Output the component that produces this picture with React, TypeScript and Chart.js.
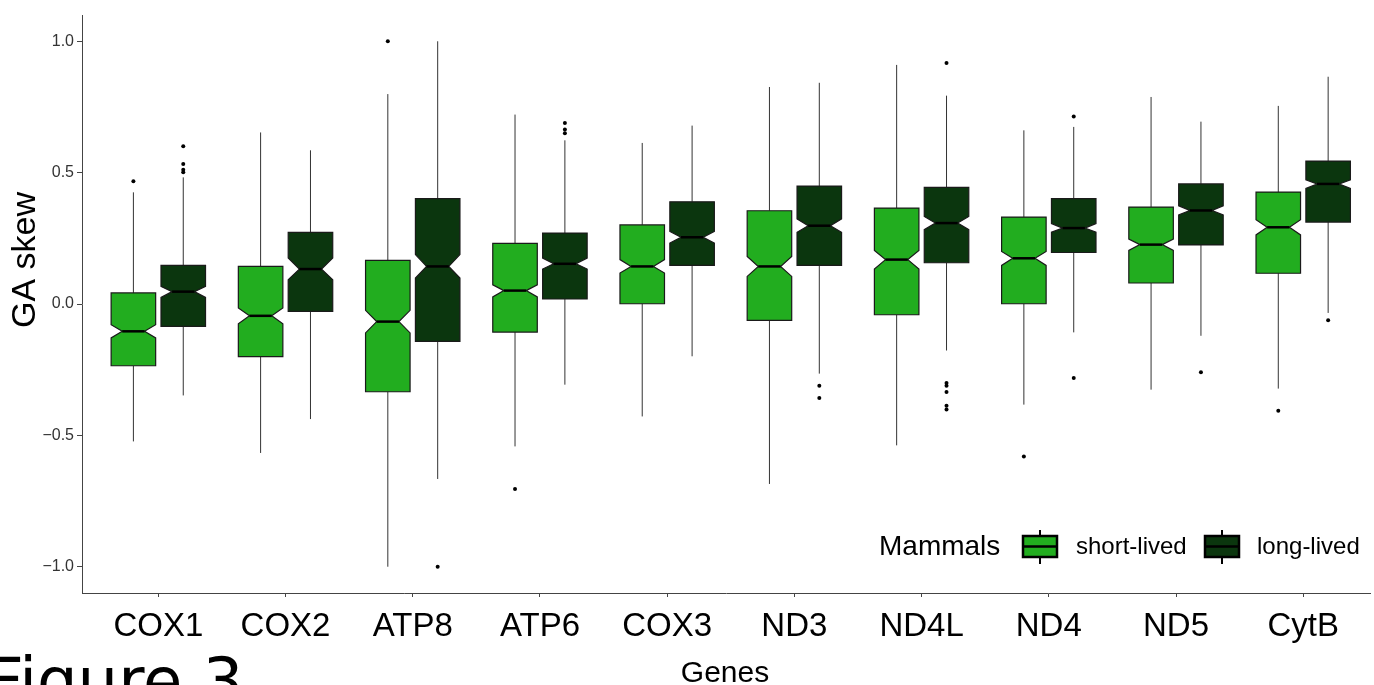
import React, { useEffect, useRef } from "react";
import { Chart, registerables } from "chart.js";

Chart.register(...registerables);

// ---------- data ----------
const genes = ["COX1", "COX2", "ATP8", "ATP6", "COX3", "ND3", "ND4L", "ND4", "ND5", "CytB"];
const groupLabels = ["short-lived", "long-lived"];
const yTickValues = [-1, -0.5, 0, 0.5, 1];

// short-lived mammals
const shortWhiskerLow = [-0.523, -0.567, -1.0, -0.542, -0.428, -0.685, -0.538, -0.383, -0.326, -0.322];
const shortQ1 = [-0.235, -0.2, -0.334, -0.107, 0.001, -0.062, -0.041, 0.001, 0.08, 0.117];
const shortNotchLow = [-0.129, -0.075, -0.11, 0.027, 0.118, 0.105, 0.133, 0.147, 0.204, 0.263];
const shortMedian = [-0.104, -0.045, -0.067, 0.051, 0.143, 0.143, 0.169, 0.174, 0.226, 0.292];
const shortNotchHigh = [-0.079, -0.015, -0.024, 0.073, 0.169, 0.181, 0.204, 0.2, 0.247, 0.321];
const shortQ3 = [0.042, 0.143, 0.166, 0.231, 0.301, 0.355, 0.365, 0.331, 0.369, 0.426];
const shortWhiskerHigh = [0.425, 0.653, 0.799, 0.721, 0.613, 0.826, 0.91, 0.661, 0.788, 0.754];
const shortOutliers = [[0.467], [], [1.0], [-0.704], [], [], [], [-0.58], [], [-0.406]];

// long-lived mammals
const longWhiskerLow = [-0.348, -0.438, -0.666, -0.307, -0.199, -0.265, -0.177, -0.108, -0.121, -0.034];
const longQ1 = [-0.085, -0.028, -0.142, 0.019, 0.147, 0.147, 0.157, 0.196, 0.225, 0.312];
const longNotchLow = [0.025, 0.092, 0.099, 0.133, 0.232, 0.273, 0.283, 0.273, 0.339, 0.44];
const longMedian = [0.047, 0.133, 0.143, 0.153, 0.254, 0.298, 0.308, 0.289, 0.356, 0.457];
const longNotchHigh = [0.067, 0.175, 0.188, 0.175, 0.276, 0.324, 0.333, 0.306, 0.374, 0.473];
const longQ3 = [0.147, 0.273, 0.401, 0.27, 0.389, 0.449, 0.444, 0.401, 0.457, 0.544];
const longWhiskerHigh = [0.482, 0.585, 1.0, 0.623, 0.679, 0.842, 0.793, 0.674, 0.694, 0.865];
const longOutliers = [
  [0.6, 0.533, 0.511, 0.501],
  [],
  [-1.0],
  [0.689, 0.664, 0.65],
  [],
  [-0.311, -0.358],
  [0.917, -0.301, -0.311, -0.335, -0.387, -0.402],
  [0.714, -0.282],
  [-0.26],
  [-0.062],
];

// ---------- styles ----------
const SHORT_COLOR = "#22AD1F";
const LONG_COLOR = "#0B360E";
const DODGE = 0.196;
const HALF_WIDTH = 0.175;
const SANS = "'Liberation Sans', Arial, sans-serif";

const groups = [
  {
    label: groupLabels[0], color: SHORT_COLOR, offset: -DODGE,
    wl: shortWhiskerLow, q1: shortQ1, nl: shortNotchLow, med: shortMedian,
    nh: shortNotchHigh, q3: shortQ3, wh: shortWhiskerHigh, out: shortOutliers,
  },
  {
    label: groupLabels[1], color: LONG_COLOR, offset: DODGE,
    wl: longWhiskerLow, q1: longQ1, nl: longNotchLow, med: longMedian,
    nh: longNotchHigh, q3: longQ3, wh: longWhiskerHigh, out: longOutliers,
  },
];

const boxPlugin = {
  id: "notchedBoxes",
  beforeDatasetsDraw(chart: any) {
    const { ctx } = chart;
    const xs = chart.scales.x;
    const ys = chart.scales.y;
    ctx.save();
    groups.forEach((g) => {
      genes.forEach((_, i) => {
        const pos = i + 1 + g.offset;
        const cx = xs.getPixelForValue(pos);
        const hw = xs.getPixelForValue(pos + HALF_WIDTH) - cx;
        const Y = (v: number) => ys.getPixelForValue(v);
        // whiskers
        ctx.beginPath();
        ctx.strokeStyle = "#333";
        ctx.lineWidth = 1;
        ctx.moveTo(cx, Y(g.wh[i]));
        ctx.lineTo(cx, Y(g.q3[i]));
        ctx.moveTo(cx, Y(g.q1[i]));
        ctx.lineTo(cx, Y(g.wl[i]));
        ctx.stroke();
        // notched box
        const ind = hw * 0.5;
        ctx.beginPath();
        ctx.moveTo(cx - hw, Y(g.q3[i]));
        ctx.lineTo(cx + hw, Y(g.q3[i]));
        ctx.lineTo(cx + hw, Y(g.nh[i]));
        ctx.lineTo(cx + hw - ind, Y(g.med[i]));
        ctx.lineTo(cx + hw, Y(g.nl[i]));
        ctx.lineTo(cx + hw, Y(g.q1[i]));
        ctx.lineTo(cx - hw, Y(g.q1[i]));
        ctx.lineTo(cx - hw, Y(g.nl[i]));
        ctx.lineTo(cx - hw + ind, Y(g.med[i]));
        ctx.lineTo(cx - hw, Y(g.nh[i]));
        ctx.closePath();
        ctx.fillStyle = g.color;
        ctx.fill();
        ctx.strokeStyle = "#1a1a1a";
        ctx.lineWidth = 1.2;
        ctx.stroke();
        // median
        ctx.beginPath();
        ctx.strokeStyle = "#000";
        ctx.lineWidth = 2.5;
        ctx.moveTo(cx - hw + ind, Y(g.med[i]));
        ctx.lineTo(cx + hw - ind, Y(g.med[i]));
        ctx.stroke();
      });
    });
    ctx.restore();
  },
  afterDraw(chart: any) {
    const { ctx } = chart;
    ctx.save();
    // y axis title
    ctx.save();
    ctx.translate(26, 260);
    ctx.rotate(-Math.PI / 2);
    ctx.font = `34px ${SANS}`;
    ctx.fillStyle = "#000";
    ctx.textAlign = "center";
    ctx.textBaseline = "middle";
    ctx.fillText("GA skew", 0, 0);
    ctx.restore();
    // x axis title
    ctx.font = `30px ${SANS}`;
    ctx.fillStyle = "#000";
    ctx.textAlign = "center";
    ctx.textBaseline = "alphabetic";
    ctx.fillText("Genes", 725, 682);
    // legend
    const ly = 547;
    ctx.fillStyle = "#000";
    ctx.textBaseline = "middle";
    ctx.textAlign = "left";
    ctx.font = `28px ${SANS}`;
    ctx.fillText("Mammals", 879, ly);
    const keys = [
      { x: 1023, color: SHORT_COLOR, label: groupLabels[0], tx: 1076 },
      { x: 1205, color: LONG_COLOR, label: groupLabels[1], tx: 1257 },
    ];
    keys.forEach((k) => {
      const w = 34;
      const cx = k.x + w / 2;
      ctx.strokeStyle = "#000";
      ctx.lineWidth = 2;
      ctx.beginPath();
      ctx.moveTo(cx, 530);
      ctx.lineTo(cx, 564);
      ctx.stroke();
      ctx.fillStyle = k.color;
      ctx.fillRect(k.x, 536, w, 21);
      ctx.lineWidth = 2.5;
      ctx.strokeRect(k.x, 536, w, 21);
      ctx.beginPath();
      ctx.moveTo(k.x, 546.5);
      ctx.lineTo(k.x + w, 546.5);
      ctx.stroke();
      ctx.fillStyle = "#000";
      ctx.font = `24px ${SANS}`;
      ctx.fillText(k.label, k.tx, ly);
    });
    // figure caption
    ctx.font = `64px 'DejaVu Sans', sans-serif`;
    ctx.textBaseline = "alphabetic";
    ctx.fillStyle = "#000";
    ctx.fillText("Figure 3", -13, 703);
    ctx.restore();
  },
};

const outlierData = (g: typeof groups[number]) =>
  g.out.flatMap((vals, i) => vals.map((v) => ({ x: i + 1 + g.offset, y: v })));

export default function App() {
  const ref = useRef<HTMLCanvasElement | null>(null);
  useEffect(() => {
    if (!ref.current) return;
    const chart = new Chart(ref.current, {
      type: "scatter",
      data: {
        datasets: groups.map((g) => ({
          label: g.label,
          data: outlierData(g),
          pointRadius: 2,
          pointBackgroundColor: "#000",
          pointBorderWidth: 0,
          showLine: false,
        })),
      },
      options: {
        animation: false,
        responsive: true,
        maintainAspectRatio: false,
        layout: { padding: { top: 15, left: 0, right: 0, bottom: 0 } },
        plugins: { legend: { display: false }, tooltip: { enabled: false } },
        scales: {
          x: {
            type: "linear",
            min: 0.4,
            max: 10.525,
            afterFit: (s: any) => { s.height = 92; },
            afterBuildTicks: (s: any) => { s.ticks = genes.map((_, i) => ({ value: i + 1 })); },
            ticks: {
              callback: (_v: any, idx: number) => genes[idx],
              font: { family: SANS, size: 33 },
              color: "#000",
              padding: 10,
              autoSkip: false,
              maxRotation: 0,
            },
            grid: { drawOnChartArea: false, drawTicks: true, tickLength: 4, color: "#444" },
            border: { display: true, color: "#444", width: 1 },
            title: { display: false },
          },
          y: {
            type: "linear",
            min: -1.1,
            max: 1.1,
            afterFit: (s: any) => { s.width = 82; },
            afterBuildTicks: (s: any) => { s.ticks = yTickValues.map((v) => ({ value: v })); },
            ticks: {
              callback: (v: any) => Number(v).toFixed(1).replace("-", "\u2212"),
              font: { family: SANS, size: 16 },
              color: "#333",
              padding: 3,
            },
            grid: { drawOnChartArea: false, drawTicks: true, tickLength: 5, color: "#444" },
            border: { display: true, color: "#444", width: 1 },
            title: { display: false },
          },
        },
      },
      plugins: [boxPlugin],
    });
    return () => chart.destroy();
  }, []);
  return (
    <div style={{ position: "absolute", left: 0, top: 0, width: 1374, height: 685, background: "#fff" }}>
      <canvas ref={ref} />
    </div>
  );
}
